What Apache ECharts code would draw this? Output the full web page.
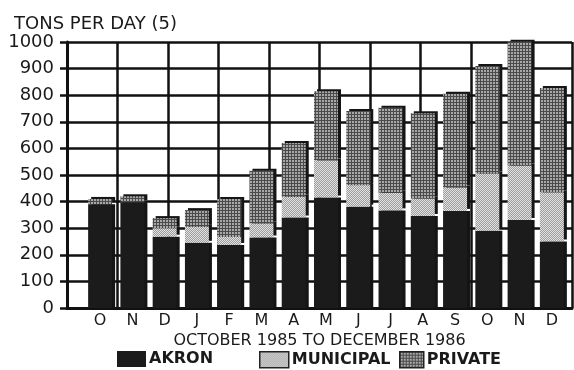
<!DOCTYPE html>
<html>
<head>
<meta charset="utf-8">
<script src="https://cdn.jsdelivr.net/npm/echarts@6/dist/echarts.min.js"></script>
<style>
  html, body { margin: 0; padding: 0; background: #fff; }
  #chart { width: 574px; height: 370px; }
</style>
</head>
<body>
<div id="chart"></div>
<script>
// months Oct 1985 .. Dec 1986
var months = ['O', 'N', 'D', 'J', 'F', 'M', 'A', 'M', 'J', 'J', 'A', 'S', 'O', 'N', 'D'];
var akron = [390, 398, 268, 245, 237, 265, 340, 415, 381, 367, 346, 365, 290, 331, 250];
var municipal = [0, 0, 32, 60, 30, 53, 78, 140, 81, 66, 66, 88, 216, 205, 185];
var privateHaul = [20, 22, 38, 63, 143, 198, 202, 260, 279, 320, 320, 352, 404, 465, 392];
var yTicks = [0, 100, 200, 300, 400, 500, 600, 700, 800, 900, 1000];

var FONT = 'DejaVu Sans';

// little tiles for the dotted fills
function makeTile(size, fn) {
  var c = document.createElement('canvas');
  c.width = size; c.height = size;
  var ctx = c.getContext('2d');
  for (var x = 0; x < size; x++) {
    for (var y = 0; y < size; y++) {
      ctx.fillStyle = fn(x, y);
      ctx.fillRect(x, y, 1, 1);
    }
  }
  return c;
}
var muniTile = makeTile(2, function (x, y) { return (x + y) % 2 ? '#9c9c9c' : '#e2e2e2'; });
var privTile = makeTile(3, function (x, y) { return (x === 0 || y === 0) ? '#4a4a4a' : '#a8a8a8'; });

var chart = echarts.init(document.getElementById('chart'));

var barBase = {
  type: 'bar',
  stack: 'total',
  xAxisIndex: 1,
  yAxisIndex: 1,
  barWidth: 24,
  clip: false
};
var edge = {
  shadowColor: '#151515',
  shadowBlur: 0,
  shadowOffsetX: 3,
  shadowOffsetY: -2
};
var legendText = { fontFamily: FONT, fontSize: 16, fontWeight: 'bold', color: '#1a1a1a', padding: [0, 0, 0, -2] };
var legendBox = { borderColor: '#222', borderWidth: 1.5, shadowBlur: 0, shadowOffsetX: 0, shadowOffsetY: 0 };

var option = {
  animation: false,
  title: {
    text: 'TONS PER DAY (5)',
    left: 9,
    top: 10,
    textStyle: { fontFamily: FONT, fontSize: 18, fontWeight: 'normal', color: '#1a1a1a' }
  },
  legend: [
    { data: ['AKRON'], left: 112, top: 346, itemWidth: 29, itemHeight: 16, icon: 'rect', textStyle: legendText },
    { data: ['MUNICIPAL'], left: 254, top: 346, itemWidth: 29, itemHeight: 16, icon: 'rect', textStyle: legendText, itemStyle: legendBox },
    { data: ['PRIVATE'], left: 394, top: 346, itemWidth: 24, itemHeight: 16, icon: 'rect', textStyle: legendText, itemStyle: legendBox }
  ],
  grid: [
    { left: 67, right: 2, top: 42, bottom: 62 },
    { left: 84, right: 6, top: 42, bottom: 62 }
  ],
  xAxis: [
    {
      type: 'value', gridIndex: 0, min: 0, max: 10, interval: 1,
      axisLabel: { show: false },
      axisTick: { show: false },
      axisLine: { show: true, lineStyle: { color: '#111', width: 3 } },
      splitLine: { show: true, lineStyle: { color: '#111', width: 2.5 } },
      name: 'OCTOBER 1985 TO DECEMBER 1986',
      nameLocation: 'middle',
      nameGap: 25,
      nameTextStyle: { fontFamily: FONT, fontSize: 16, color: '#1a1a1a' }
    },
    {
      type: 'category', gridIndex: 1, data: months,
      axisLine: { show: false },
      axisTick: { show: false },
      axisLabel: { fontFamily: FONT, fontSize: 16, color: '#1a1a1a', margin: 5 }
    }
  ],
  yAxis: [
    {
      type: 'value', gridIndex: 0, min: 0, max: 1000, interval: 100,
      axisLine: { show: true, lineStyle: { color: '#111', width: 3 } },
      axisTick: { show: true, length: 7, lineStyle: { color: '#111', width: 2.5 } },
      splitLine: { show: true, lineStyle: { color: '#111', width: 2.5 } },
      axisLabel: {
        fontFamily: FONT, fontSize: 18, color: '#1a1a1a', margin: 13,
        formatter: function (v) { return yTicks.indexOf(v) >= 0 ? String(v) : ''; }
      }
    },
    {
      type: 'value', gridIndex: 1, min: 0, max: 1000, interval: 100, show: false
    }
  ],
  series: [
    Object.assign({}, barBase, {
      name: 'AKRON', data: akron,
      itemStyle: Object.assign({ color: '#1b1b1b' }, edge, { shadowOffsetY: 0 })
    }),
    Object.assign({}, barBase, {
      name: 'MUNICIPAL', data: municipal,
      itemStyle: Object.assign({ color: { image: muniTile, repeat: 'repeat' } }, edge)
    }),
    Object.assign({}, barBase, {
      name: 'PRIVATE', data: privateHaul,
      itemStyle: Object.assign({ color: { image: privTile, repeat: 'repeat' } }, edge)
    })
  ]
};

chart.setOption(option);
</script>
</body>
</html>
